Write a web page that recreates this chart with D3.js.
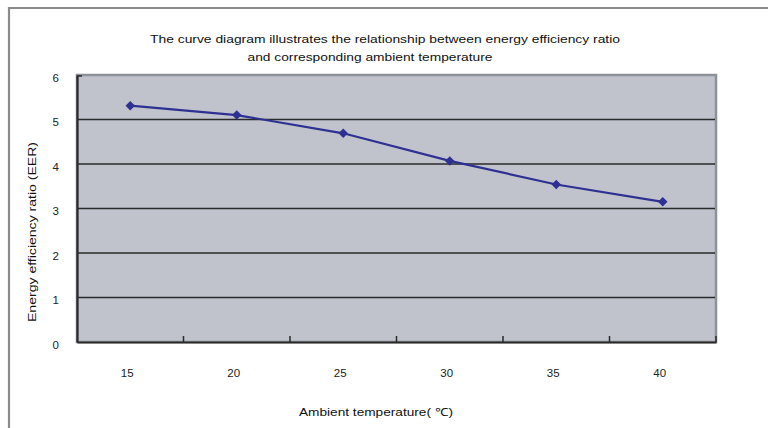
<!DOCTYPE html>
<html><head><meta charset="utf-8">
<script src="https://cdn.jsdelivr.net/npm/d3@7"></script>
<style>body{margin:0;background:#fff}svg{display:block;font-family:"Liberation Sans",Arial,sans-serif}</style>
</head><body><svg id="c" width="768" height="428"></svg>
<script>
const categories = ["15","20","25","30","35","40"];
const eerValues = [5.31, 5.10, 4.69, 4.07, 3.54, 3.15];
const yTicks = [0,1,2,3,4,5,6];
const titleLines = ["The curve diagram illustrates the relationship between energy efficiency ratio","and corresponding ambient temperature"];
const xTitle = "Ambient temperature( \u2103)";
const yTitle = "Energy efficiency ratio (EER)";

const svg = d3.select("#c");
const L=77,R=716,T=75,B=342;
const x = d3.scaleBand().domain(categories).range([L,R]).padding(0);
const y = d3.scaleLinear().domain([0,6]).range([B,T]);

// outer frame
svg.append("path").attr("d","M9,428 V8 H768").attr("fill","none").attr("stroke","#8a8a8a").attr("stroke-width",2.2);

// titles
svg.append("text").attr("x",385).attr("y",43).attr("text-anchor","middle").attr("font-size",11)
  .attr("textLength",470).attr("lengthAdjust","spacingAndGlyphs").attr("fill","#111").text(titleLines[0]);
svg.append("text").attr("x",370).attr("y",61).attr("text-anchor","middle").attr("font-size",11)
  .attr("textLength",245).attr("lengthAdjust","spacingAndGlyphs").attr("fill","#111").text(titleLines[1]);

// plot area
svg.append("rect").attr("x",L).attr("y",T).attr("width",R-L).attr("height",B-T)
  .attr("fill","#c0c3cc").attr("stroke","#8d9199").attr("stroke-width",2.5);

// gridlines
svg.append("g").selectAll("line").data(yTicks.filter(d=>d>0&&d<6)).join("line")
  .attr("x1",L).attr("x2",R-1).attr("y1",d=>y(d)).attr("y2",d=>y(d))
  .attr("stroke","#2a2a2a").attr("stroke-width",1.5);

// axes
const yAxis = d3.axisLeft(y).tickValues(yTicks).tickSize(0).tickPadding(18).tickFormat(d3.format("d"));
const gy = svg.append("g").attr("transform",`translate(${L},0)`).call(yAxis);
gy.select(".domain").attr("stroke","#2a2a2a").attr("stroke-width",2.2);
gy.selectAll("text").attr("font-size",11.5).attr("fill","#222").attr("dy","0.55em").attr("font-family","Liberation Sans, Arial, sans-serif");
// small top-left tick
svg.append("line").attr("x1",L).attr("x2",L+5).attr("y1",T+1).attr("y2",T+1).attr("stroke","#2a2a2a").attr("stroke-width",1.5);

const xAxis = d3.axisBottom(x).tickSize(0).tickPadding(27);
const gx = svg.append("g").attr("transform",`translate(0,${B})`).call(xAxis);
gx.select(".domain").attr("stroke","#2a2a2a").attr("stroke-width",2.2);
gx.selectAll("text").attr("font-size",11.5).attr("fill","#222").attr("font-family","Liberation Sans, Arial, sans-serif").attr("dx","-3");
// inner x ticks at category boundaries
svg.append("g").selectAll("line").data(categories).join("line")
  .attr("x1",d=>x(d)+x.bandwidth()).attr("x2",d=>x(d)+x.bandwidth())
  .attr("y1",B).attr("y2",B-6).attr("stroke","#2a2a2a").attr("stroke-width",1.5);

// axis titles
svg.append("text").attr("x",376).attr("y",416).attr("text-anchor","middle").attr("font-size",11)
  .attr("textLength",154).attr("lengthAdjust","spacingAndGlyphs").attr("fill","#111").text(xTitle);
svg.append("text").attr("transform","translate(36,232) rotate(-90)").attr("text-anchor","middle").attr("font-size",11)
  .attr("textLength",180).attr("lengthAdjust","spacingAndGlyphs").attr("fill","#111").text(yTitle);

// line
const data = categories.map((c,i)=>({c,v:eerValues[i]}));
const line = d3.line().x(d=>x(d.c)+x.bandwidth()/2).y(d=>y(d.v));
svg.append("path").datum(data).attr("d",line).attr("fill","none").attr("stroke","#2e3192").attr("stroke-width",2.2);
svg.append("g").selectAll("path").data(data).join("path")
  .attr("transform",d=>`translate(${x(d.c)+x.bandwidth()/2},${y(d.v)}) rotate(45)`)
  .attr("d",d3.symbol(d3.symbolSquare,45)()).attr("fill","#2e3192");
</script></body></html>
